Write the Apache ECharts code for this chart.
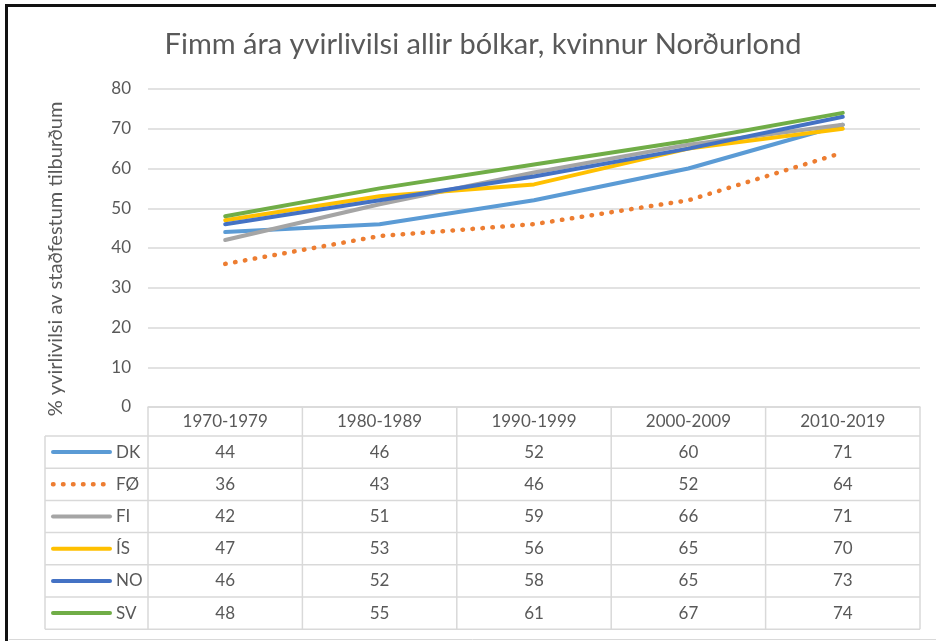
<!DOCTYPE html>
<html>
<head>
<meta charset="utf-8">
<script src="https://cdn.jsdelivr.net/npm/echarts@6/dist/echarts.min.js"></script>
<style>
html,body{margin:0;padding:0;background:#fff;}
#chart{width:936px;height:641px;}
</style>
</head>
<body>
<div id="chart"></div>
<script>
const titleText = 'Fimm ára yvirlivilsi allir bólkar, kvinnur Norðurlond';
const yAxisTitle = '% yvirlivilsi av staðfestum tilburðum';
const categories = ['1970-1979', '1980-1989', '1990-1999', '2000-2009', '2010-2019'];
const seriesNames = ['DK', 'FØ', 'FI', 'ÍS', 'NO', 'SV'];
const DK = [44, 46, 52, 60, 71];
const FO = [36, 43, 46, 52, 64];
const FI = [42, 51, 59, 66, 71];
const IS = [47, 53, 56, 65, 70];
const NO = [46, 52, 58, 65, 73];
const SV = [48, 55, 61, 67, 74];
const seriesValues = [DK, FO, FI, IS, NO, SV];
const seriesColors = ['#5B9BD5', '#ED7D31', '#A5A5A5', '#FFC000', '#4472C4', '#70AD47'];
const yTicks = [0, 10, 20, 30, 40, 50, 60, 70, 80];

const FONT = 'Lato, "Liberation Sans", sans-serif';
const TXT = '#595959';
const GRID = '#d9d9d9';

const chart = echarts.init(document.getElementById('chart'), null, {renderer: 'canvas'});

const series = seriesNames.map((n, i) => ({
  name: n,
  type: 'line',
  data: seriesValues[i],
  symbol: 'none',
  smooth: false,
  z: 3 + i,
  lineStyle: i === 1
    ? {color: seriesColors[i], width: 4.5, type: [0.5, 9.5], cap: 'round'}
    : {color: seriesColors[i], width: 4, cap: 'round'}
}));

chart.setOption({
  animation: false,
  backgroundColor: '#ffffff',
  title: {
    text: titleText,
    left: 478,
    top: 25,
    textAlign: 'center',
    textStyle: {fontFamily: FONT, fontSize: 29, fontWeight: 'normal', color: TXT}
  },
  grid: {left: 148, right: 16, top: 89, bottom: 234, containLabel: false},
  xAxis: {
    type: 'category',
    data: categories,
    boundaryGap: true,
    axisLine: {show: true, lineStyle: {color: GRID, width: 1.5}},
    axisTick: {show: false},
    axisLabel: {color: TXT, fontSize: 17, fontFamily: FONT, margin: 6}
  },
  yAxis: {
    type: 'value',
    min: yTicks[0],
    max: yTicks[yTicks.length - 1],
    interval: yTicks[1] - yTicks[0],
    axisLine: {show: false},
    axisTick: {show: false},
    splitLine: {lineStyle: {color: GRID, width: 1.5}},
    axisLabel: {color: TXT, fontSize: 17, fontFamily: FONT, margin: 17}
  },
  series: series
});

// Build data table below the plot from the arrays, positioned via the axes' scales
const xs = categories.map(c => chart.convertToPixel({xAxisIndex: 0}, c));
const band = xs[1] - xs[0];
const tLeft = xs[0] - band / 2;
const tRight = xs[xs.length - 1] + band / 2;
const y0 = chart.convertToPixel({yAxisIndex: 0}, 0);
const headerH = 29;
const rowH = 32.2;
const legLeft = 45;
const rowTop = y0 + headerH;
const tBottom = rowTop + rowH * seriesNames.length;

const g = [];
const lineStyle = {stroke: GRID, lineWidth: 1.5};
for (let r = 0; r <= seriesNames.length; r++) {
  const y = rowTop + r * rowH;
  g.push({type: 'line', shape: {x1: legLeft, y1: y, x2: tRight, y2: y}, style: lineStyle, silent: true});
}
g.push({type: 'line', shape: {x1: legLeft, y1: rowTop, x2: legLeft, y2: tBottom}, style: lineStyle});
for (let c = 0; c <= categories.length; c++) {
  const x = tLeft + c * band;
  g.push({type: 'line', shape: {x1: x, y1: y0, x2: x, y2: tBottom}, style: lineStyle});
}
seriesNames.forEach((n, r) => {
  const cy = rowTop + r * rowH + rowH / 2;
  const key = {stroke: seriesColors[r], lineWidth: r === 1 ? 4.5 : 4, lineCap: 'round'};
  if (r === 1) key.lineDash = [0.5, 9.5];
  g.push({type: 'line', shape: {x1: 53, y1: cy, x2: 110, y2: cy}, style: key});
  g.push({type: 'text', x: 116, y: cy, style: {text: n, fill: TXT, font: '17px ' + FONT, textAlign: 'left', textVerticalAlign: 'middle'}});
  seriesValues[r].forEach((v, c) => {
    g.push({type: 'text', x: xs[c], y: cy, style: {text: String(v), fill: TXT, font: '17px ' + FONT, textAlign: 'center', textVerticalAlign: 'middle'}});
  });
});
g.push({type: 'text', x: 56, y: 259, rotation: Math.PI / 2,
  style: {text: yAxisTitle, fill: TXT, font: '20px ' + FONT, textAlign: 'center', textVerticalAlign: 'middle'}});
g.push({type: 'rect', shape: {x: 5, y: 4, width: 931, height: 3}, style: {fill: '#111'}});
g.push({type: 'rect', shape: {x: 5, y: 4, width: 3, height: 637}, style: {fill: '#111'}});
g.push({type: 'line', shape: {x1: 9, y1: 639.5, x2: 936, y2: 639.5}, style: {stroke: '#d9d9d9', lineWidth: 1}});

chart.setOption({graphic: g});
</script>
</body>
</html>
